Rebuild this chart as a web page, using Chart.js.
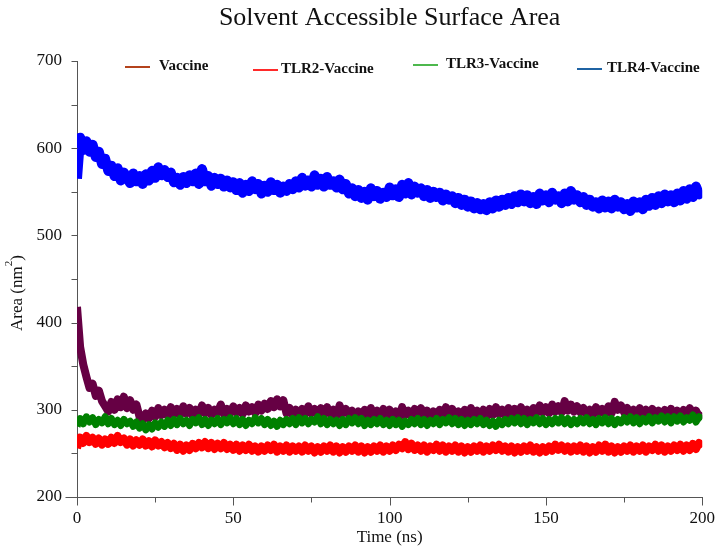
<!DOCTYPE html>
<html><head><meta charset="utf-8">
<script src="https://cdn.jsdelivr.net/npm/chart.js@4/dist/chart.umd.min.js"></script>
<style>html,body{margin:0;padding:0;background:#fff}#wrap{width:726px;height:554px}</style>
</head><body><div id="wrap"><canvas id="c" width="726" height="554"></canvas></div>
<script>
const seriesNames = ['Vaccine', 'TLR2-Vaccine', 'TLR3-Vaccine', 'TLR4-Vaccine'];
const chartTitle = 'Solvent Accessible Surface Area';
const xTitle = 'Time (ns)';
const yTickMajor = [200, 300, 400, 500, 600, 700];
const yTickMinor = [250, 350, 450, 550, 650];
const xTickMajor = [0, 50, 100, 150, 200];
const xTickMinor = [25, 75, 125, 175];

// Sampled at 1 ns intervals, t = 0 .. 200 ns
const vaccine = [
418,372,352,338,325,330,316,322,310,304,
298,309,300,312,303,315,302,311,300,306,
292,288,296,290,299,292,302,294,300,293,
303,295,301,294,304,296,302,293,300,295,
305,296,302,294,300,297,306,295,301,296,
304,297,302,295,305,298,303,296,306,299,
307,301,310,303,312,304,311,296,302,294,
300,293,301,295,304,296,301,294,302,295,
303,295,300,293,305,296,301,294,299,292,
298,291,300,293,302,294,299,292,301,293,
300,292,298,291,303,294,299,292,301,294,
302,293,299,292,298,291,300,292,303,295,
301,293,298,291,300,292,302,294,299,293,
300,292,301,294,303,295,300,293,302,294,
301,294,303,295,300,293,302,296,305,297,
303,296,306,298,304,297,310,299,306,298,
304,297,302,295,300,294,303,296,301,295,
304,296,309,300,305,297,302,295,300,294,
302,295,300,293,301,294,299,292,300,294,
301,293,299,292,300,294,302,293,299,292,
297];
const tlr2 = [
256,268,262,270,263,268,261,267,260,266,
261,268,262,270,263,267,260,266,259,265,
260,266,259,264,258,265,259,263,257,262,
256,261,254,260,253,259,254,261,256,262,
257,263,256,262,255,261,256,262,255,260,
254,260,253,259,254,260,253,258,252,258,
253,259,254,260,252,258,253,259,252,258,
253,258,252,259,253,258,251,257,252,258,
253,259,252,258,251,257,252,258,253,259,
252,258,251,257,252,258,253,259,252,258,
253,259,254,260,256,263,255,261,254,259,
253,259,252,258,254,260,253,259,252,258,
253,259,252,258,251,257,252,258,253,259,
252,258,253,259,254,260,253,258,252,258,
251,257,252,258,253,259,252,257,251,257,
252,258,253,260,254,259,253,258,252,258,
253,259,252,258,251,257,252,259,253,260,
252,258,251,257,252,258,253,259,252,258,
253,259,252,258,254,260,253,259,252,258,
253,259,254,260,253,259,254,261,255,262,
257];
const tlr3 = [
281,290,284,292,286,291,283,289,285,292,
284,290,283,288,282,289,284,287,281,286,
279,284,277,283,278,285,280,286,281,288,
282,289,283,290,284,288,282,289,285,291,
283,289,282,288,284,290,283,289,285,291,
284,290,283,289,282,288,284,291,285,290,
283,289,282,287,281,288,283,289,284,290,
283,291,285,290,284,289,286,292,284,290,
283,289,284,288,282,289,283,290,285,291,
284,290,282,288,283,289,284,290,283,288,
282,289,283,288,281,287,283,289,284,290,
283,289,282,288,284,290,283,289,285,291,
284,290,283,289,282,288,283,289,284,290,
283,288,282,287,281,288,283,289,284,290,
285,291,284,290,283,289,285,291,284,290,
283,289,284,290,285,291,284,290,283,289,
284,290,285,291,284,289,283,290,285,291,
284,290,283,289,285,291,286,292,285,291,
284,290,286,292,285,291,287,293,286,292,
285,292,287,293,286,291,288,294,286,292,
289];
const tlr4 = [
565,612,598,608,596,604,590,596,582,588,
574,580,568,577,563,572,566,560,571,562,
568,559,570,563,574,566,578,569,575,567,
572,561,566,558,567,560,569,562,571,559,
576,562,568,557,566,559,565,556,563,555,
561,552,560,549,558,551,562,553,559,548,
557,550,561,552,558,549,556,551,559,553,
562,555,566,557,563,556,569,558,565,556,
567,558,562,555,564,553,559,548,554,545,
552,543,550,541,554,545,551,542,549,544,
555,546,553,544,558,548,560,547,556,549,
554,545,552,543,550,544,549,540,547,541,
545,537,543,535,541,533,539,531,537,530,
536,529,538,531,540,533,541,535,543,536,
545,538,547,539,546,537,544,536,548,540,
546,538,549,541,545,537,548,539,551,541,
546,538,544,535,541,533,538,531,540,532,
539,531,541,533,538,530,536,528,539,532,
538,530,541,534,543,535,545,537,547,539,
546,538,548,540,551,542,553,544,556,547,
552];

const lineColors = ['#660044', '#ff0000', '#008000', '#0000ff'];
const legendColors = ['#b4431c', '#ff2a2a', '#4db84d', '#1f63a3'];
const seriesValues = [vaccine, tlr2, tlr3, tlr4];
const lineWidths = [8, 8, 7, 10];
const drawOrder = [1, 2, 0, 3];

const toPoints = vals => vals.map((v, i) => ({x: i, y: v}));

const SERIF = '"Liberation Serif", "Times New Roman", serif';

const decor = {
  id: 'decor',
  afterDraw(chart) {
    const ctx = chart.ctx, xs = chart.scales.x, ys = chart.scales.y, ca = chart.chartArea;
    ctx.save();
    ctx.strokeStyle = '#555'; ctx.lineWidth = 1;
    const xl = Math.round(ca.left) + 0.5, yb = Math.round(ca.bottom) + 0.5;
    yTickMajor.concat(yTickMinor).forEach(v => {
      const py = Math.round(ys.getPixelForValue(v)) + 0.5;
      ctx.beginPath(); ctx.moveTo(xl - (v === 200 ? 12 : 6), py); ctx.lineTo(xl, py); ctx.stroke();
    });
    xTickMajor.forEach(v => {
      const px = Math.round(xs.getPixelForValue(v)) + 0.5;
      ctx.beginPath(); ctx.moveTo(px, yb); ctx.lineTo(px, yb + 8); ctx.stroke();
    });
    xTickMinor.forEach(v => {
      const px = Math.round(xs.getPixelForValue(v)) + 0.5;
      ctx.beginPath(); ctx.moveTo(px, yb); ctx.lineTo(px, yb + 5); ctx.stroke();
    });
    ctx.fillStyle = '#111';
    ctx.font = '26px ' + SERIF;
    ctx.textAlign = 'center'; ctx.textBaseline = 'middle';
    ctx.fillText(chartTitle, (ca.left + ca.right) / 2, 18);
    const legPos = [[125, 159, 66], [253, 281, 69], [413, 446, 64], [577, 607, 68]];
    ctx.font = 'bold 15px ' + SERIF;
    ctx.textAlign = 'left';
    seriesNames.forEach((n, i) => {
      const [lx, tx, ty] = legPos[i];
      ctx.strokeStyle = legendColors[i]; ctx.lineWidth = 2;
      ctx.beginPath(); ctx.moveTo(lx, ty + 1); ctx.lineTo(lx + 25, ty + 1); ctx.stroke();
      ctx.fillStyle = '#111';
      ctx.fillText(n, tx, ty);
    });
    ctx.translate(18, 293);
    ctx.rotate(-Math.PI / 2);
    ctx.font = '17px ' + SERIF;
    const a = 'Area (nm', c = ')';
    const wa = ctx.measureText(a).width, wc = ctx.measureText(c).width;
    ctx.font = '11px ' + SERIF;
    const wb = ctx.measureText('2').width;
    let sx = -(wa + wb + wc) / 2;
    ctx.fillStyle = '#111';
    ctx.textBaseline = 'middle';
    ctx.font = '17px ' + SERIF;
    ctx.fillText(a, sx, 0);
    ctx.font = '11px ' + SERIF;
    ctx.fillText('2', sx + wa, -9);
    ctx.font = '17px ' + SERIF;
    ctx.fillText(c, sx + wa + wb, 0);
    ctx.restore();
  }
};

new Chart(document.getElementById('c'), {
  type: 'line',
  data: {
    datasets: seriesNames.map((n, i) => ({
      label: n,
      data: toPoints(seriesValues[i]),
      borderColor: lineColors[i],
      backgroundColor: lineColors[i],
      borderWidth: lineWidths[i],
      borderJoinStyle: 'round',
      borderCapStyle: 'butt',
      pointRadius: 0,
      tension: 0,
      fill: false,
      order: drawOrder[i]
    }))
  },
  options: {
    responsive: false,
    animation: false,
    devicePixelRatio: 1,
    layout: {padding: {top: 61, right: 18, left: 0, bottom: 0}},
    plugins: {legend: {display: false}, title: {display: false}, tooltip: {enabled: false}},
    scales: {
      x: {
        type: 'linear', min: 0, max: 200,
        afterFit: s => { s.height = 57; },
        afterBuildTicks: s => { s.ticks = xTickMajor.map(v => ({value: v})); },
        grid: {display: false, drawTicks: false},
        border: {display: true, color: '#555', width: 1},
        ticks: {color: '#111', padding: 11, maxRotation: 0, font: {family: SERIF, size: 17}},
        title: {display: true, text: xTitle, color: '#111', font: {family: SERIF, size: 17}, padding: {top: 0, bottom: 6}}
      },
      y: {
        min: 200, max: 700,
        afterFit: s => { s.width = 77; },
        afterBuildTicks: s => { s.ticks = yTickMajor.map(v => ({value: v})); },
        grid: {display: false, drawTicks: false},
        border: {display: true, color: '#555', width: 1},
        ticks: {color: '#111', padding: 15, font: {family: SERIF, size: 17}},
        title: {display: false}
      }
    }
  },
  plugins: [decor]
});
</script></body></html>
